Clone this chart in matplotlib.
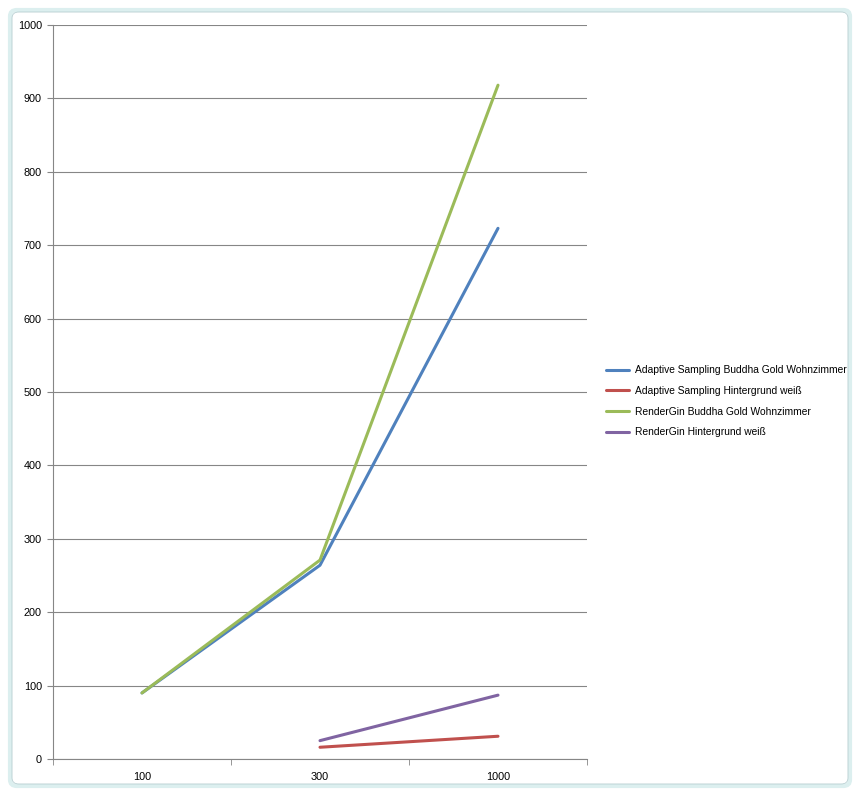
import numpy as np
import matplotlib
matplotlib.use("Agg")
import matplotlib.pyplot as plt
from matplotlib.patches import FancyBboxPatch

categories = ["100", "300", "1000"]
adaptive_buddha = [90, 264, 723]
adaptive_white = [np.nan, 16, 31]
rendergin_buddha = [90, 271, 918]
rendergin_white = [np.nan, 25, 87]

series_names = [
    "Adaptive Sampling Buddha Gold Wohnzimmer",
    "Adaptive Sampling Hintergrund weiß",
    "RenderGin Buddha Gold Wohnzimmer",
    "RenderGin Hintergrund weiß",
]
series_values = [adaptive_buddha, adaptive_white, rendergin_buddha, rendergin_white]
series_colors = ["#4F81BD", "#C0504D", "#9BBB59", "#8064A2"]

plt.rcParams["font.family"] = ["Liberation Sans", "DejaVu Sans"]

fig = plt.figure(figsize=(8.54, 7.90), dpi=100)
fig.patch.set_facecolor("white")

# chart frame
frame = FancyBboxPatch((10 / 854, 4 / 790), 840 / 854, 776 / 790,
                       boxstyle="round,pad=0,rounding_size=0.008",
                       transform=fig.transFigure, facecolor="none",
                       edgecolor="#dcefef", linewidth=3.0, zorder=0)
fig.patches.append(frame)
frame2 = FancyBboxPatch((12 / 854, 6 / 790), 836 / 854, 772 / 790,
                        boxstyle="round,pad=0,rounding_size=0.008",
                        transform=fig.transFigure, facecolor="none",
                        edgecolor="#b8cfd2", linewidth=0.6, zorder=0)
fig.patches.append(frame2)

ax = fig.add_axes([53 / 854, 31 / 790, 534 / 854, 734 / 790])
x = np.arange(len(categories))

lines = []
for name, vals, col in zip(series_names, series_values, series_colors):
    ln, = ax.plot(x, vals, color=col, linewidth=2.2, label=name,
                  solid_capstyle="round", solid_joinstyle="round", zorder=3)
    lines.append(ln)

ax.set_xlim(-0.5, len(categories) - 0.5)
ax.set_ylim(0, 1000)
ax.set_yticks(np.arange(0, 1001, 100))
ax.set_xticks(x)
ax.set_xticklabels(categories)
ax.set_xticks(np.arange(-0.5, len(categories), 1.0), minor=True)

ax.grid(axis="y", color="#868686", linewidth=0.8, zorder=1)
for s in ["top", "right"]:
    ax.spines[s].set_visible(False)
for s in ["left", "bottom"]:
    ax.spines[s].set_color("#868686")
    ax.spines[s].set_linewidth(0.8)

ax.tick_params(axis="x", which="major", length=0, pad=9, labelsize=7.8)
ax.tick_params(axis="x", which="minor", length=4, color="#868686", direction="out")
ax.tick_params(axis="y", which="major", length=4, color="#868686", direction="out",
               pad=4, labelsize=7.8)

fig.legend(handles=lines, labels=series_names, loc="upper left",
           bbox_to_anchor=(602 / 854, 1 - 361 / 790), frameon=False,
           fontsize=7.4, handlelength=2.2, handletextpad=0.6,
           labelspacing=1.05, borderaxespad=0)

fig.savefig("out.png", dpi=100, facecolor="white")
